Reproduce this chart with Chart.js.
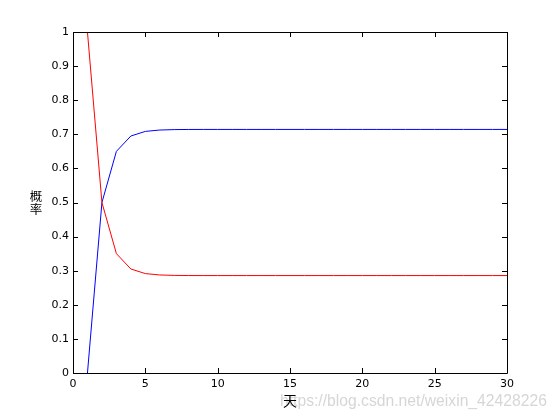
<!DOCTYPE html>
<html>
<head>
<meta charset="utf-8">
<script src="https://cdn.jsdelivr.net/npm/chart.js@4/dist/chart.umd.min.js"></script>
<style>
  html, body { margin: 0; padding: 0; background: #fff; }
  canvas { display: block; }
</style>
</head>
<body>
<canvas id="chart" width="560" height="420"></canvas>
<script>
"use strict";

// x: day number
const days = [1, 2, 3, 4, 5, 6, 7, 8, 9, 10,
              11, 12, 13, 14, 15, 16, 17, 18, 19, 20,
              21, 22, 23, 24, 25, 26, 27, 28, 29, 30];

// red curve
const redSeries = [1, 0.5, 0.35, 0.305, 0.2915, 0.2875, 0.2862, 0.2858, 0.2857, 0.2857,
                   0.2857, 0.2857, 0.2857, 0.2857, 0.2857, 0.2857, 0.2857, 0.2857, 0.2857, 0.2857,
                   0.2857, 0.2857, 0.2857, 0.2857, 0.2857, 0.2857, 0.2857, 0.2857, 0.2857, 0.2857];

// blue curve
const blueSeries = [0, 0.5, 0.65, 0.695, 0.7085, 0.7125, 0.7138, 0.7142, 0.7143, 0.7143,
                    0.7143, 0.7143, 0.7143, 0.7143, 0.7143, 0.7143, 0.7143, 0.7143, 0.7143, 0.7143,
                    0.7143, 0.7143, 0.7143, 0.7143, 0.7143, 0.7143, 0.7143, 0.7143, 0.7143, 0.7143];

const xLabel = "天";
const yLabel = "概率";
const watermark = "https://blog.csdn.net/weixin_42428226";

function toPoints(values) {
  return days.map((d, i) => ({x: d, y: values[i]}));
}

// matlab style box with ticks pointing inward on all four sides,
// plus the upright stacked y label and the blog watermark
const boxTicks = {
  id: "boxTicks",
  beforeDraw(chart) {
    const ctx = chart.ctx;
    ctx.save();
    ctx.fillStyle = "rgba(200,200,200,0.75)";
    ctx.font = "15.7px 'Liberation Sans', Arial, sans-serif";
    ctx.textBaseline = "middle";
    ctx.textAlign = "left";
    ctx.fillText(watermark, 280, 402);
    ctx.restore();
  },
  afterDraw(chart) {
    const ctx = chart.ctx;
    const a = chart.chartArea;
    const xs = chart.scales.x;
    const ys = chart.scales.y;
    const len = 5;
    ctx.save();
    ctx.strokeStyle = "#000";
    ctx.lineWidth = 1;
    ctx.beginPath();
    ctx.rect(a.left + 0.5, a.top + 0.5, a.right - a.left, a.bottom - a.top);
    for (const t of xs.ticks) {
      const px = Math.round(xs.getPixelForValue(t.value)) + 0.5;
      ctx.moveTo(px, a.bottom);
      ctx.lineTo(px, a.bottom - len);
      ctx.moveTo(px, a.top);
      ctx.lineTo(px, a.top + len);
    }
    for (const t of ys.ticks) {
      const py = Math.round(ys.getPixelForValue(t.value)) + 0.5;
      ctx.moveTo(a.left, py);
      ctx.lineTo(a.left + len, py);
      ctx.moveTo(a.right, py);
      ctx.lineTo(a.right - len, py);
    }
    ctx.stroke();

    // y label, one character under the other
    ctx.fillStyle = "#000";
    ctx.font = "12.5px 'Noto Sans CJK SC', sans-serif";
    ctx.textAlign = "center";
    ctx.textBaseline = "middle";
    const chars = Array.from(yLabel);
    const step = 13.5;
    const midY = (a.top + a.bottom) / 2;
    chars.forEach((c, i) => {
      ctx.fillText(c, 36, midY + (i - (chars.length - 1) / 2) * step);
    });
    ctx.restore();
  }
};

const tickFont = {family: "'DejaVu Sans', sans-serif", size: 11};
const titleFont = {family: "'Noto Sans CJK SC', sans-serif", size: 14};

new Chart(document.getElementById("chart"), {
  type: "line",
  data: {
    datasets: [
      {
        data: toPoints(redSeries),
        borderColor: "#ff0000",
        borderWidth: 1,
        pointRadius: 0,
        tension: 0
      },
      {
        data: toPoints(blueSeries),
        borderColor: "#0000ff",
        borderWidth: 1,
        pointRadius: 0,
        tension: 0
      }
    ]
  },
  options: {
    responsive: false,
    animation: false,
    devicePixelRatio: 1,
    layout: {padding: {left: 0, top: 32, right: 53, bottom: 0}},
    plugins: {legend: {display: false}, tooltip: {enabled: false}},
    scales: {
      x: {
        type: "linear",
        min: 0,
        max: 30,
        afterFit: s => { s.height = 47; },
        grid: {display: false, drawTicks: false},
        border: {display: false},
        ticks: {stepSize: 5, padding: 5, color: "#000", font: tickFont, maxRotation: 0},
        title: {display: true, text: xLabel, color: "#000", font: titleFont,
                padding: {top: 0, bottom: 11}}
      },
      y: {
        min: 0,
        max: 1,
        afterFit: s => { s.width = 73; },
        grid: {display: false, drawTicks: false},
        border: {display: false},
        ticks: {
          stepSize: 0.1,
          padding: 4,
          color: "#000",
          font: tickFont,
          callback: v => String(+v.toFixed(1))
        },
        title: {display: false}
      }
    }
  },
  plugins: [boxTicks]
});
</script>
</body>
</html>
